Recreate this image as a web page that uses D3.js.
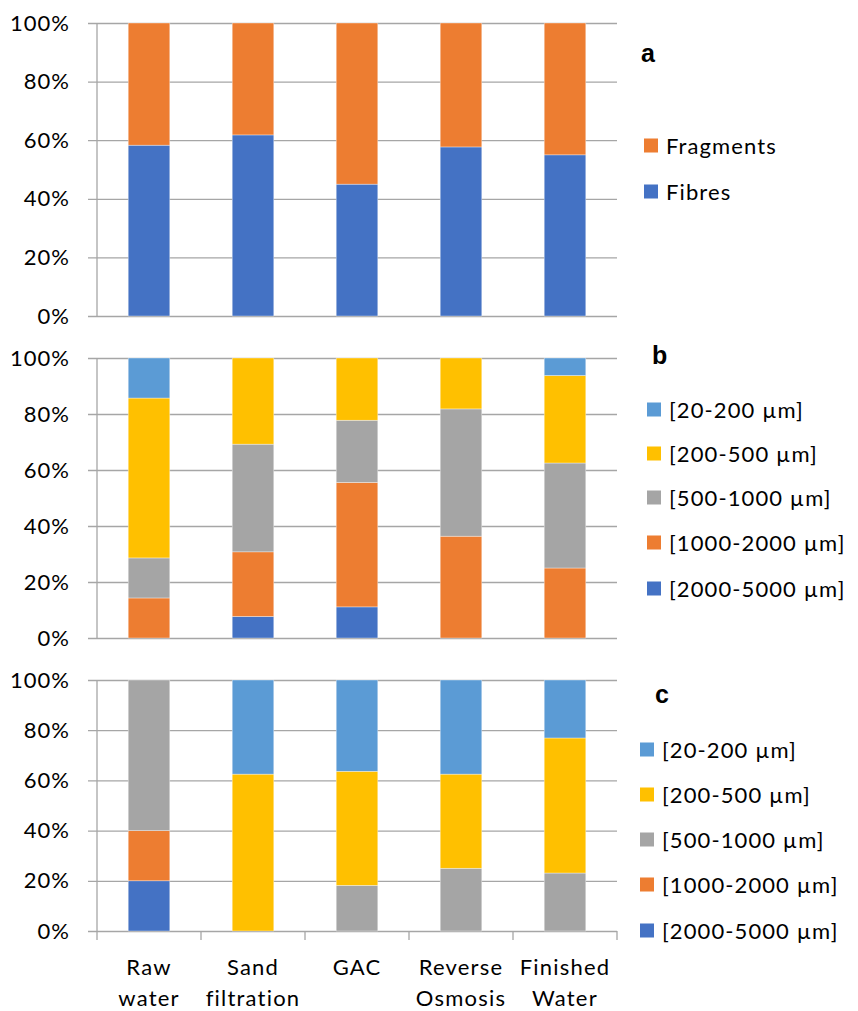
<!DOCTYPE html>
<html>
<head>
<meta charset="utf-8">
<script src="https://cdn.jsdelivr.net/npm/d3@7"></script>
<style>
  html, body { margin: 0; padding: 0; background: #fff; }
  svg text { font-family: "Lato", "Open Sans", sans-serif; fill: #000; }
</style>
</head>
<body>
<svg id="chart" width="858" height="1011"></svg>
<script>
// Treatment stages along the x axis (two-line labels)
const categories = ["Raw water", "Sand filtration", "GAC", "Reverse Osmosis", "Finished Water"];
const categoryLines = [["Raw", "water"], ["Sand", "filtration"], ["GAC"], ["Reverse", "Osmosis"], ["Finished", "Water"]];

// Panel a: shape share (%)
const shapeSeries = ["Fibres", "Fragments"];
const fibres    = [58.3, 61.8, 45.0, 57.7, 55.0];
const fragments = [41.7, 38.2, 55.0, 42.3, 45.0];

// Size classes, stacked from the bottom up
const sizeClasses = ["[2000-5000 µm]", "[1000-2000 µm]", "[500-1000 µm]", "[200-500 µm]", "[20-200 µm]"];

// Panel b: size distribution (%)
const b_2000_5000 = [0, 7.7, 11.1, 0, 0];
const b_1000_2000 = [14.3, 23.1, 44.4, 36.4, 25.0];
const b_500_1000  = [14.3, 38.5, 22.2, 45.5, 37.5];
const b_200_500   = [57.1, 30.8, 22.2, 18.2, 31.25];
const b_20_200    = [14.3, 0, 0, 0, 6.25];

// Panel c: size distribution (%)
const c_2000_5000 = [20, 0, 0, 0, 0];
const c_1000_2000 = [20, 0, 0, 0, 0];
const c_500_1000  = [60, 0, 18.2, 25.0, 23.1];
const c_200_500   = [0, 62.5, 45.5, 37.5, 53.8];
const c_20_200    = [0, 37.5, 36.4, 37.5, 23.1];

const yTicks = [0, 0.2, 0.4, 0.6, 0.8, 1.0];

const colors = {
  "Fibres": "#4472C4", "Fragments": "#ED7D31",
  "[2000-5000 µm]": "#4472C4", "[1000-2000 µm]": "#ED7D31", "[500-1000 µm]": "#A5A5A5",
  "[200-500 µm]": "#FFC000", "[20-200 µm]": "#5B9BD5"
};

function rows(keys, arrays) {
  return categories.map((c, i) => {
    const r = { category: c };
    keys.forEach((k, j) => r[k] = arrays[j][i]);
    return r;
  });
}

const panels = [
  { letter: "a", top: 23, bottom: 316, keys: shapeSeries, data: rows(shapeSeries, [fibres, fragments]),
    letterPos: [641, 62], legendX: 644, legendY: [192, 146], xTicks: false },
  { letter: "b", top: 358, bottom: 638, keys: sizeClasses,
    data: rows(sizeClasses, [b_2000_5000, b_1000_2000, b_500_1000, b_200_500, b_20_200]),
    letterPos: [652, 364], legendX: 647, legendY: [589, 543, 498, 454, 410], xTicks: false },
  { letter: "c", top: 680, bottom: 931, keys: sizeClasses,
    data: rows(sizeClasses, [c_2000_5000, c_1000_2000, c_500_1000, c_200_500, c_20_200]),
    letterPos: [655, 703], legendX: 640, legendY: [931, 885, 840, 795, 750], xTicks: true }
];

const svg = d3.select("#chart");
const x0 = 97, x1 = 617;
const x = d3.scaleBand().domain(categories).range([x0, x1]).paddingInner(0.6).paddingOuter(0.3);
const xBand = d3.scaleBand().domain(categories).range([x0, x1]);
const gridColor = "#A6A6A6";

panels.forEach(p => {
  const y = d3.scaleLinear().domain([0, 1]).range([p.bottom, p.top]);
  const g = svg.append("g");

  // horizontal gridlines with short outside ticks
  const yAxis = d3.axisLeft(y).tickValues(yTicks).tickFormat(d3.format(".0%"))
    .tickSize(-(x1 - x0)).tickPadding(27);
  const ya = g.append("g").attr("transform", `translate(${x0},0)`).call(yAxis);
  ya.select(".domain").remove();
  ya.selectAll(".tick line").attr("x1", -9).attr("stroke", gridColor).attr("stroke-width", 1.3);
  ya.selectAll(".tick text").attr("font-size", 22).attr("fill", "#000")
    .attr("letter-spacing", 1)
    .style("font-family", "Lato, sans-serif");

  // vertical axis line
  g.append("line").attr("x1", x0).attr("x2", x0).attr("y1", p.top)
    .attr("y2", p.xTicks ? p.bottom + 9 : p.bottom)
    .attr("stroke", gridColor).attr("stroke-width", 1.3);

  // stacked bars normalised to 100%
  const stack = d3.stack().keys(p.keys).offset(d3.stackOffsetExpand);
  const layers = stack(p.data);
  g.append("g").selectAll("g").data(layers).join("g")
    .attr("fill", d => colors[d.key])
    .selectAll("rect").data(d => d).join("rect")
    .attr("x", d => x(d.data.category))
    .attr("width", x.bandwidth())
    .attr("y", d => y(d[1]))
    .attr("height", d => Math.max(0, y(d[0]) - y(d[1])))
    .attr("stroke", "#fff").attr("stroke-width", 0.6).attr("stroke-opacity", 0.6);

  // category separator ticks on the bottom axis
  if (p.xTicks) {
    const bounds = categories.map(c => xBand(c)).concat([x1]);
    g.append("g").selectAll("line").data(bounds.slice(1)).join("line")
      .attr("x1", d => d).attr("x2", d => d)
      .attr("y1", p.bottom).attr("y2", p.bottom + 9)
      .attr("stroke", gridColor).attr("stroke-width", 1.3);
  }

  // panel letter
  svg.append("text").attr("x", p.letterPos[0]).attr("y", p.letterPos[1])
    .attr("font-size", 25).attr("font-weight", "bold")
    .style("font-family", "'Liberation Sans', Arial, sans-serif")
    .text(p.letter);

  // legend
  const lg = svg.append("g");
  p.keys.forEach((k, i) => {
    const cy = p.legendY[i];
    lg.append("rect").attr("x", p.legendX).attr("y", cy - 7.5).attr("width", 14).attr("height", 14)
      .attr("fill", colors[k]);
    lg.append("text").attr("x", p.legendX + 22).attr("y", cy).attr("dy", "0.35em")
      .attr("font-size", 22).attr("letter-spacing", 1.1).text(k);
  });
});

// two-line category labels under the last panel
const lab = svg.append("g");
categoryLines.forEach((lines, i) => {
  const cx = xBand(categories[i]) + xBand.bandwidth() / 2;
  lines.forEach((t, j) => {
    lab.append("text").attr("x", cx).attr("y", 975 + j * 31)
      .attr("text-anchor", "middle").attr("font-size", 22).attr("letter-spacing", 1.2).text(t);
  });
});
</script>
</body>
</html>
